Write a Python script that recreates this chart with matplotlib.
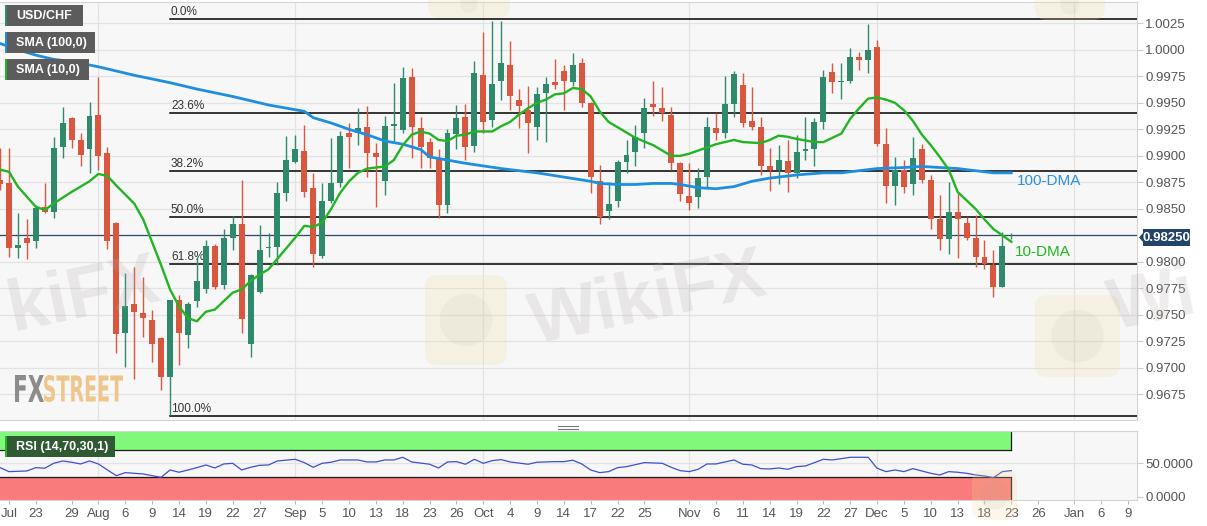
import numpy as np
import pandas as pd
import matplotlib
matplotlib.use("Agg")
import matplotlib.pyplot as plt
from matplotlib.patches import FancyBboxPatch, Polygon, PathPatch, Circle
from matplotlib.textpath import TextPath
from matplotlib.font_manager import FontProperties
from matplotlib.transforms import Affine2D

plt.rcParams['font.family'] = ['Liberation Sans', 'DejaVu Sans']

# --- data (daily USD/CHF, trading days from 2019-07-17) ---
start_date = "2019-07-17"
opens = [0.9877, 0.9874, 0.9813, 0.9823, 0.9820, 0.9852, 0.9847, 0.9908, 0.9936, 0.9915,
         0.9906, 0.9939, 0.9903, 0.9837, 0.9733, 0.9760, 0.9752, 0.9745, 0.9728, 0.9691,
         0.9764, 0.9731, 0.9763, 0.9774, 0.9815, 0.9778, 0.9823, 0.9836, 0.9723, 0.9772,
         0.9813, 0.9814, 0.9865, 0.9894, 0.9905, 0.9870, 0.9806, 0.9857, 0.9874, 0.9922,
         0.9922, 0.9927, 0.9903, 0.9876, 0.9928, 0.9924, 0.9974, 0.9926, 0.9913, 0.9898,
         0.9854, 0.9921, 0.9937, 0.9909, 0.9976, 0.9934, 0.9971, 0.9986, 0.9953, 0.9943,
         0.9927, 0.9959, 0.9970, 0.9980, 0.9970, 0.9988, 0.9950, 0.9876, 0.9848, 0.9857,
         0.9894, 0.9904, 0.9922, 0.9949, 0.9945, 0.9939, 0.9893, 0.9862, 0.9861, 0.9880,
         0.9926, 0.9922, 0.9949, 0.9967, 0.9933, 0.9927, 0.9890, 0.9887, 0.9895, 0.9884,
         0.9905, 0.9906, 0.9932, 0.9979, 0.9970, 0.9971, 0.9993, 0.9990, 1.0003, 0.9911,
         0.9872, 0.9887, 0.9873, 0.9906, 0.9877, 0.9840, 0.9822, 0.9847, 0.9837, 0.9823,
         0.9805, 0.9797, 0.9776, 0.9825]
highs = [0.9907, 0.9907, 0.9846, 0.9840, 0.9854, 0.9874, 0.9918, 0.9946, 0.9937, 0.9922,
         0.9951, 0.9974, 0.9908, 0.9838, 0.9790, 0.9795, 0.9786, 0.9755, 0.9729, 0.9764,
         0.9769, 0.9762, 0.9805, 0.9821, 0.9817, 0.9831, 0.9843, 0.9877, 0.9789, 0.9835,
         0.9827, 0.9875, 0.9919, 0.9920, 0.9929, 0.9884, 0.9874, 0.9917, 0.9923, 0.9931,
         0.9945, 0.9947, 0.9912, 0.9938, 0.9969, 0.9984, 0.9983, 0.9937, 0.9917, 0.9906,
         0.9925, 0.9948, 0.9949, 0.9989, 1.0017, 1.0027, 1.0027, 1.0008, 0.9963, 0.9966,
         0.9965, 0.9974, 0.9991, 0.9986, 0.9997, 0.9992, 0.9951, 0.9891, 0.9875, 0.9896,
         0.9915, 0.9929, 0.9955, 0.9971, 0.9965, 0.9946, 0.9894, 0.9893, 0.9889, 0.9937,
         0.9940, 0.9975, 0.9980, 0.9978, 0.9965, 0.9937, 0.9907, 0.9910, 0.9915, 0.9920,
         0.9937, 0.9936, 0.9981, 0.9988, 0.9988, 1.0002, 0.9998, 1.0024, 1.0009, 0.9926,
         0.9899, 0.9896, 0.9918, 0.9911, 0.9882, 0.9863, 0.9875, 0.9865, 0.9842, 0.9844,
         0.9821, 0.9811, 0.9828, 0.9827]
lows = [0.9868, 0.9805, 0.9804, 0.9803, 0.9813, 0.9846, 0.9841, 0.9898, 0.9907, 0.9890,
        0.9884, 0.9887, 0.9812, 0.9714, 0.9701, 0.9690, 0.9729, 0.9706, 0.9679, 0.9656,
        0.9703, 0.9719, 0.9757, 0.9771, 0.9774, 0.9774, 0.9811, 0.9733, 0.9710, 0.9771,
        0.9805, 0.9797, 0.9857, 0.9893, 0.9861, 0.9795, 0.9804, 0.9856, 0.9871, 0.9889,
        0.9910, 0.9880, 0.9852, 0.9863, 0.9913, 0.9922, 0.9898, 0.9889, 0.9889, 0.9841,
        0.9846, 0.9906, 0.9896, 0.9904, 0.9922, 0.9927, 0.9953, 0.9943, 0.9926, 0.9903,
        0.9915, 0.9913, 0.9963, 0.9943, 0.9966, 0.9946, 0.9865, 0.9836, 0.9840, 0.9852,
        0.9884, 0.9890, 0.9907, 0.9938, 0.9933, 0.9887, 0.9857, 0.9849, 0.9851, 0.9870,
        0.9915, 0.9917, 0.9937, 0.9927, 0.9924, 0.9882, 0.9867, 0.9873, 0.9866, 0.9879,
        0.9896, 0.9890, 0.9925, 0.9959, 0.9954, 0.9969, 0.9981, 0.9978, 0.9909, 0.9856,
        0.9854, 0.9865, 0.9863, 0.9874, 0.9831, 0.9811, 0.9807, 0.9804, 0.9821, 0.9795,
        0.9793, 0.9767, 0.9776, 0.9822]
closes = [0.9873, 0.9813, 0.9816, 0.9818, 0.9851, 0.9847, 0.9907, 0.9931, 0.9915, 0.9901,
          0.9938, 0.9900, 0.9820, 0.9732, 0.9758, 0.9753, 0.9747, 0.9723, 0.9691, 0.9764,
          0.9733, 0.9760, 0.9782, 0.9815, 0.9776, 0.9823, 0.9836, 0.9746, 0.9788, 0.9811,
          0.9814, 0.9865, 0.9896, 0.9906, 0.9866, 0.9807, 0.9857, 0.9874, 0.9919, 0.9918,
          0.9926, 0.9903, 0.9899, 0.9928, 0.9930, 0.9973, 0.9927, 0.9908, 0.9898, 0.9854,
          0.9922, 0.9936, 0.9908, 0.9978, 0.9932, 0.9968, 0.9988, 0.9956, 0.9947, 0.9931,
          0.9958, 0.9968, 0.9967, 0.9971, 0.9986, 0.9950, 0.9880, 0.9842, 0.9855, 0.9894,
          0.9901, 0.9918, 0.9945, 0.9946, 0.9940, 0.9893, 0.9864, 0.9856, 0.9879, 0.9927,
          0.9922, 0.9949, 0.9977, 0.9931, 0.9927, 0.9890, 0.9887, 0.9896, 0.9884, 0.9904,
          0.9906, 0.9932, 0.9974, 0.9970, 0.9971, 0.9993, 0.9990, 1.0000, 0.9911, 0.9872,
          0.9887, 0.9871, 0.9898, 0.9877, 0.9840, 0.9822, 0.9847, 0.9840, 0.9823, 0.9805,
          0.9798, 0.9776, 0.9815, 0.9825]

# moving averages (trading-day index, value)
sma10_idx = [0, 1, 2, 4, 5, 6, 8, 10, 11, 12, 13, 15, 16, 18, 19, 20, 21, 22, 23, 24, 26, 27,
             28, 29, 30, 31, 33, 34, 35, 36, 37, 38, 39, 40, 41, 43, 44, 45, 46, 47, 48, 49,
             50, 51, 52, 53, 55, 56, 57, 58, 59, 60, 61, 62, 63, 64, 65, 66, 67, 68, 69, 71,
             73, 74, 75, 76, 77, 78, 79, 80, 82, 83, 85, 86, 87, 88, 89, 91, 92, 94, 95, 96,
             97, 98, 99, 100, 101, 102, 103, 104, 105, 106, 107, 108, 109, 110, 111, 112, 113]
sma10_val = [0.9887, 0.9885, 0.9871, 0.9852, 0.9849, 0.9855, 0.9866, 0.9876, 0.9883, 0.9881,
             0.9872, 0.9855, 0.9840, 0.9797, 0.9774, 0.9758, 0.9747, 0.9744, 0.9753, 0.9755,
             0.9771, 0.9774, 0.9782, 0.9788, 0.9793, 0.9803, 0.9823, 0.9834, 0.9833, 0.9837,
             0.9850, 0.9865, 0.9876, 0.9884, 0.9888, 0.9890, 0.9896, 0.9910, 0.9920, 0.9923,
             0.9921, 0.9915, 0.9914, 0.9919, 0.9920, 0.9923, 0.9923, 0.9928, 0.9932, 0.9939,
             0.9945, 0.9950, 0.9953, 0.9958, 0.9959, 0.9964, 0.9963, 0.9956, 0.9942, 0.9932,
             0.9927, 0.9917, 0.9910, 0.9905, 0.9900, 0.9900, 0.9902, 0.9905, 0.9908, 0.9911,
             0.9915, 0.9913, 0.9912, 0.9915, 0.9919, 0.9918, 0.9916, 0.9913, 0.9913, 0.9921,
             0.9935, 0.9945, 0.9954, 0.9955, 0.9953, 0.9950, 0.9943, 0.9933, 0.9920, 0.9910,
             0.9899, 0.9887, 0.9866, 0.9858, 0.9850, 0.9840, 0.9831, 0.9825, 0.9819]
sma100_idx = [0, 2, 4, 6, 8, 11, 15, 19, 22, 26, 30, 32, 34, 35, 37, 39, 41, 43, 45, 47, 48,
              50, 52, 56, 60, 63, 66, 67, 69, 71, 73, 75, 76, 78, 80, 82, 84, 86, 88, 89, 92,
              94, 96, 98, 101, 103, 105, 107, 110, 111, 113]
sma100_val = [1.0006, 1.0000, 0.9995, 0.9991, 0.9989, 0.9984, 0.9976, 0.9969, 0.9963, 0.9956,
              0.9948, 0.9945, 0.9942, 0.9936, 0.9931, 0.9925, 0.9920, 0.9914, 0.9911, 0.9906,
              0.9899, 0.9896, 0.9893, 0.9888, 0.9884, 0.9880, 0.9876, 0.9874, 0.9873, 0.9873,
              0.9874, 0.9874, 0.9873, 0.9870, 0.9869, 0.9871, 0.9876, 0.9879, 0.9881, 0.9882,
              0.9884, 0.9884, 0.9886, 0.9888, 0.9889, 0.9890, 0.9889, 0.9888, 0.9885, 0.9884,
              0.9884]

rsi_idx = [0, 1, 3, 4, 5, 6, 7, 8, 9, 10, 11, 12, 13, 14, 16, 18, 19, 20, 21, 22, 23, 24, 25,
           26, 27, 28, 29, 30, 31, 33, 34, 35, 36, 37, 38, 40, 41, 42, 43, 44, 45, 46, 48, 49,
           50, 51, 52, 53, 54, 55, 56, 57, 59, 60, 62, 63, 64, 65, 66, 67, 68, 69, 70, 72, 74,
           75, 76, 77, 78, 79, 80, 82, 83, 84, 85, 86, 87, 88, 89, 90, 92, 93, 95, 97, 98, 99,
           100, 101, 102, 103, 104, 105, 106, 107, 108, 109, 110, 111, 112, 113]
rsi_val = [43.5, 37.5, 38.5, 43.5, 42.6, 50, 53.5, 51.6, 49, 53.5, 49, 40, 31.5, 36, 34, 29,
           40, 36.6, 40, 43.5, 47.5, 43, 49, 50, 40, 44, 47, 47.5, 53.5, 56, 51, 44, 50, 51.6,
           55, 55, 52, 52, 55, 55, 59, 52, 48.6, 43, 52, 52.5, 48.6, 56, 50, 54, 55.5, 52,
           48.6, 51.6, 52.5, 52.5, 54.6, 49, 40, 36, 37.5, 43.5, 45, 51, 50, 44, 39, 37.5, 41,
           49, 49, 55, 48.6, 47.5, 42, 41.5, 43, 41, 45, 46, 56, 55, 59, 59, 42.6, 37.5, 40,
           37.5, 42, 38.5, 35, 32.5, 37.5, 36.6, 35, 32.5, 31, 28.5, 37.5, 39]

fib_levels = [0.0, 23.6, 38.2, 50.0, 61.8, 100.0]
fib_high = 1.0029
fib_low = 0.9655
fib_from = "2019-08-13"
last_price = 0.9825

tick_dates = ["2019-07-18", "2019-07-23", "2019-07-29", "2019-08-01", "2019-08-06", "2019-08-09",
              "2019-08-14", "2019-08-19", "2019-08-22", "2019-08-27", "2019-09-02", "2019-09-05",
              "2019-09-10", "2019-09-13", "2019-09-18", "2019-09-23", "2019-09-26", "2019-10-01",
              "2019-10-04", "2019-10-09", "2019-10-14", "2019-10-17", "2019-10-22", "2019-10-25",
              "2019-11-01", "2019-11-06", "2019-11-11", "2019-11-14", "2019-11-19", "2019-11-22",
              "2019-11-27", "2019-12-02", "2019-12-05", "2019-12-10", "2019-12-13", "2019-12-18",
              "2019-12-23", "2019-12-26", "2020-01-01", "2020-01-06", "2020-01-09"]
tick_labels = ["Jul", "23", "29", "Aug", "6", "9", "14", "19", "22", "27", "Sep", "5", "10", "13",
               "18", "23", "26", "Oct", "4", "9", "14", "17", "22", "25", "Nov", "6", "11", "14",
               "19", "22", "27", "Dec", "5", "10", "13", "18", "23", "26", "Jan", "6", "9"]
month_dates = ["2019-08-01", "2019-09-02", "2019-10-01", "2019-11-01", "2019-12-02", "2020-01-01"]

# --- positions on a trading-day axis ---
days = pd.bdate_range(start_date, "2020-01-15")
pos = {d.strftime("%Y-%m-%d"): i for i, d in enumerate(days)}
n = len(closes)
x = np.arange(n)

W, H = 1207, 526
fig = plt.figure(figsize=(W / 100, H / 100), dpi=100)
fig.patch.set_facecolor("white")

def rect(l, t, r, b):
    return [l / W, 1 - b / H, (r - l) / W, (b - t) / H]

ax = fig.add_axes(rect(0, 2, 1137, 420))
ax2 = fig.add_axes(rect(0, 431, 1137, 500))

xmax = 1137 / 8.95
for a in (ax, ax2):
    a.set_facecolor("#f7f7f7")
    a.set_xlim(0, xmax)
    for s in a.spines.values():
        s.set_color("#d4d4d4")
        s.set_linewidth(0.8)
    a.spines['left'].set_visible(False)
    a.yaxis.tick_right()
    a.tick_params(axis='y', colors="#cccccc", labelcolor="#555555", labelsize=9.5, length=4, pad=2)
    for md in month_dates:
        a.axvline(pos[md], color="#e3e3e3", lw=0.9, zorder=0)

ax.set_ylim(0.96509, 1.00451)
yt = [v for v in np.arange(0.9675, 1.0026, 0.0025) if abs(v - 0.9825) > 1e-6]
for v in np.arange(0.9675, 1.0026, 0.0025):
    ax.axhline(v, color="#e3e3e3", lw=0.9, zorder=0)
ax.set_yticks(yt)
ax.set_yticklabels(["%.4f" % v for v in yt])
ax.set_xticks([])

# fibonacci retracement
fx0 = pos[fib_from]
for lv in fib_levels:
    yv = fib_high - (fib_high - fib_low) * lv / 100
    ax.plot([fx0, xmax], [yv, yv], color="black", lw=1.1, zorder=3)
    ax.text(fx0 + 0.1, yv + 0.0001, "%.1f%%" % lv, fontsize=8.5, color="#333333",
            ha="left", va="bottom", zorder=3)

# last price line
ax.axhline(last_price, color="#2b4a6d", lw=0.9, zorder=3)

# candles
up_c, dn_c = "#2f8a6c", "#d9573f"
for i in range(n):
    o, h, l, c = opens[i], highs[i], lows[i], closes[i]
    col = up_c if c >= o else dn_c
    ax.vlines(x[i], l, h, color=col, lw=1.0, zorder=4)
    ax.bar(x[i], max(abs(c - o), 0.00005), bottom=min(o, c), width=0.66, color=col,
           zorder=5, linewidth=0)

# moving averages
ax.plot(sma100_idx, sma100_val, color="#1e8ee0", lw=2.0, zorder=6)
ax.plot(sma10_idx, sma10_val, color="#22b422", lw=1.7, zorder=6)
ax.text(113.6, 0.9876, "100-DMA", color="#2b90e0", fontsize=11, ha="left", va="center")
ax.text(113.4, 0.9809, "10-DMA", color="#22b422", fontsize=11, ha="left", va="center")

# RSI panel
ax2.set_ylim(-5, 98.4)
ax2.axhline(50, color="#e3e3e3", lw=0.9, zorder=0)
last_x = pos["2019-12-23"]
ax2.fill_between([0, last_x], 70, 100, color="#80f97a", lw=0, zorder=1)
ax2.fill_between([0, last_x], -5, 30, color="#f97b7b", lw=0, zorder=1)
ax2.plot([0, last_x], [70, 70], color="#1a1a1a", lw=0.9, zorder=2)
ax2.plot([0, last_x], [30, 30], color="#1a1a1a", lw=0.9, zorder=2)
ax2.plot([last_x, last_x], [70, 100], color="#1a1a1a", lw=0.9, zorder=2)
ax2.plot([last_x, last_x], [-5, 30], color="#1a1a1a", lw=0.9, zorder=2)
ax2.plot(rsi_idx, rsi_val, color="#3f4fd0", lw=0.9, zorder=3)
ax2.set_yticks([0, 50])
ax2.set_yticklabels(["0.0000", "50.0000"])
ax2.set_xticks([pos[d] for d in tick_dates])
ax2.set_xticklabels(tick_labels)
ax2.tick_params(axis='x', colors="#bbbbbb", labelcolor="#555555", labelsize=9.5, length=3, pad=3)

# overlay in pixel coordinates for watermarks, logos and tags
ov = fig.add_axes([0, 0, 1, 1], facecolor="none")
ov.set_xlim(0, W)
ov.set_ylim(H, 0)
ov.axis("off")

# WikiFX watermarks
wm = dict(color="#b5a9a9", alpha=0.22, fontsize=52, fontweight="bold", rotation=12,
          va="center")
ov.text(648, 300, "WikiFX", ha="center", **wm)
ov.text(2, 297, "kiFX", ha="left", **wm)
ov.text(1203, 302, "Wi", ha="right", **wm)
for bx0, by0, bw, bh in [(428, -10, 82, 28), (1035, -10, 70, 30), (425, 275, 82, 90),
                         (1035, 295, 85, 82), (972, 470, 45, 50)]:
    ov.add_patch(FancyBboxPatch((bx0, by0), bw, bh, boxstyle="round,pad=0,rounding_size=12",
                                fc="#f2dc9a", ec="none", alpha=0.22))
    ov.add_patch(Circle((bx0 + bw / 2, by0 + bh / 2), min(bw, bh) * 0.32, fc="#9a9090",
                        ec="none", alpha=0.08))

# FXSTREET logo (condensed bold)
fp = FontProperties(family="DejaVu Sans", weight="bold")
for txt, x0, colr in [("FX", 15, "#8c8c8c"), ("STREET", 44, "#f0c58a")]:
    tp = TextPath((0, 0), txt, size=27, prop=fp)
    bb = tp.get_extents()
    w_target = 29 if txt == "FX" else 79
    tr = Affine2D().translate(-bb.x0, -bb.y0).scale(w_target / bb.width, -27 / bb.height) \
        .translate(x0, 402)
    ov.add_patch(PathPatch(tr.transform_path(tp), fc=colr, ec="none"))

# price tag on right axis
ov.add_patch(Polygon([[1139, 237.5], [1143, 233], [1143, 229], [1190, 229], [1190, 246],
                      [1143, 246], [1143, 242]], closed=True, fc="#22446a", ec="none"))
ov.text(1166.5, 237.8, "0.98250", color="white", fontsize=9.5, fontweight="bold",
        ha="center", va="center")

# legend boxes
def label_box(l, t, r, b, text, stripe, bg="#5c5c5c"):
    ov.add_patch(plt.Rectangle((l, t), r - l, b - t, fc=bg, ec="none"))
    ov.add_patch(plt.Rectangle((l, t), 2, b - t, fc=stripe, ec="none"))
    ov.text(l + 11, (t + b) / 2 + 0.5, text, color="white", fontsize=9, fontweight="bold",
            ha="left", va="center")

label_box(5, 5, 83, 26, "USD/CHF", "#2f8a6c")
label_box(5, 32, 95, 53, "SMA (100,0)", "#1e8ee0")
label_box(5, 59, 89, 80, "SMA (10,0)", "#22b422")
label_box(5, 436, 115, 457, "RSI (14,70,30,1)", "#22b422", bg="#2f5a34")

# separator handle
for yy in (426, 428.5):
    ov.plot([558, 578], [yy, yy], color="#777777", lw=0.8)
ov.plot([0, 1137], [431, 431], color="#d4d4d4", lw=0.8)

fig.savefig("out.png", dpi=100)
